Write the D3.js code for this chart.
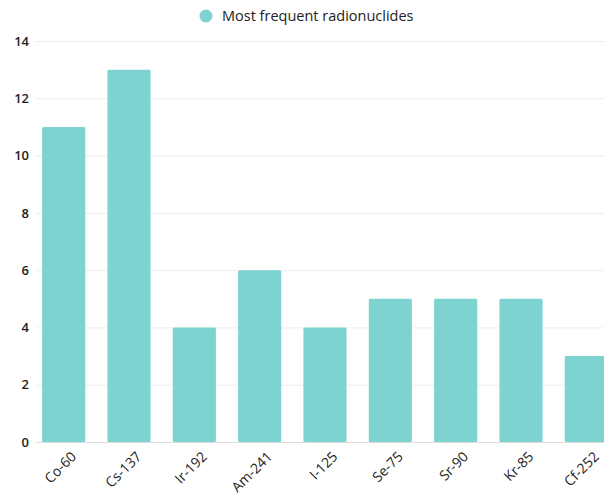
<!DOCTYPE html>
<html>
<head>
<meta charset="utf-8">
<script src="https://cdn.jsdelivr.net/npm/d3@7"></script>
<style>
  html, body { margin: 0; padding: 0; background: #fff; }
  svg { display: block; font-family: "Open Sans", "Noto Sans", sans-serif; }
</style>
</head>
<body>
<svg id="chart" width="604" height="496"></svg>
<script>
// Radionuclide counts
const categories = ["Co-60", "Cs-137", "Ir-192", "Am-241", "I-125", "Se-75", "Sr-90", "Kr-85", "Cf-252"];
const counts = [11, 13, 4, 6, 4, 5, 5, 5, 3];
const yTicks = [0, 2, 4, 6, 8, 10, 12, 14];
const seriesName = "Most frequent radionuclides";

const barColor = "#7dd3d0";
const textColor = "#222";
const svg = d3.select("#chart");

const x = d3.scaleBand()
  .domain(categories)
  .range([31, 619])
  .paddingInner(0.34)
  .paddingOuter(0.17);

const y = d3.scaleLinear()
  .domain([0, 14])
  .range([442, 41]);

// Horizontal gridlines
svg.append("g")
  .selectAll("line")
  .data(yTicks)
  .join("line")
  .attr("x1", 36)
  .attr("x2", 604)
  .attr("y1", d => y(d) + 0.5)
  .attr("y2", d => y(d) + 0.5)
  .attr("stroke", d => d === 0 ? "#dcdcdc" : "#ececec")
  .attr("stroke-width", 1);

// Y axis labels
const yAxis = d3.axisLeft(y).tickValues(yTicks).tickSize(0).tickPadding(0);
svg.append("g")
  .attr("transform", "translate(29,0)")
  .call(yAxis)
  .call(g => g.select(".domain").remove())
  .call(g => g.selectAll("text")
    .attr("fill", textColor)
    .attr("font-size", 13)
    .attr("font-weight", 600)
    .attr("font-family", "\"Open Sans\", sans-serif"));

// Bars
svg.append("g")
  .selectAll("rect")
  .data(categories.map((c, i) => ({ c, v: counts[i] })))
  .join("rect")
  .attr("x", d => x(d.c))
  .attr("y", d => y(d.v))
  .attr("width", x.bandwidth())
  .attr("height", d => y(0) - y(d.v))
  .attr("rx", 1.5)
  .attr("fill", barColor);

// X axis labels, rotated
const xAxis = d3.axisBottom(x).tickSize(0).tickPadding(0);
svg.append("g")
  .attr("transform", "translate(0,450)")
  .call(xAxis)
  .call(g => g.select(".domain").remove())
  .call(g => g.selectAll("text")
    .attr("fill", textColor)
    .attr("font-size", 14)
    .attr("font-family", "\"Open Sans\", sans-serif")
    .attr("text-anchor", "end")
    .attr("dy", "0.35em")
    .attr("transform", "translate(10,4) rotate(-45)"));

// Legend
const legend = svg.append("g").attr("transform", "translate(206,16)");
legend.append("circle").attr("r", 6.5).attr("fill", barColor);
legend.append("text")
  .attr("x", 16)
  .attr("dy", "0.35em")
  .attr("font-size", 14.5)
  .attr("fill", textColor)
  .text(seriesName);
</script>
</body>
</html>
